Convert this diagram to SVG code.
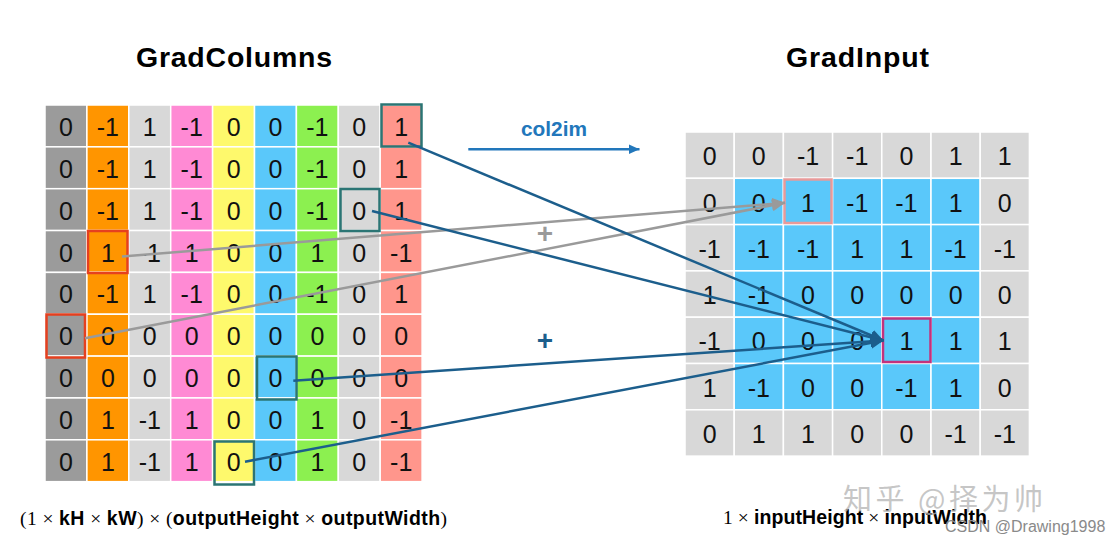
<svg xmlns="http://www.w3.org/2000/svg" width="1120" height="546" viewBox="0 0 1120 546">
<style>
.c rect{stroke:#fff;stroke-width:1.5}
.n{font-family:"Liberation Sans",Arial,sans-serif;font-size:25px;fill:#111;text-anchor:middle}
.title{font-family:"Liberation Sans",Arial,sans-serif;font-size:28.5px;font-weight:bold;fill:#000}
.g0{fill:#9b9b9b}.g1{fill:#ff9500}.g2{fill:#d8d8d8}.g3{fill:#ff8ad4}.g4{fill:#fef96c}.g5{fill:#5ac8fa}.g6{fill:#8cf050}.g8{fill:#ff968c}
.hl{fill:none;stroke-width:2.5}
.teal{stroke:#2b7574}.red{stroke:#e5401f}
.bl{stroke:#1c5e8c;stroke-width:2.5;fill:none}
.gr{stroke:#9a9a9a;stroke-width:2.5;fill:none}
.f{font-size:19.5px;fill:#000}
.serif{font-family:"Liberation Serif","Times New Roman",serif}
.sb{font-family:"Liberation Sans",Arial,sans-serif;font-weight:bold}
</style>
<defs>
<marker id="ab" markerUnits="userSpaceOnUse" markerWidth="14" markerHeight="12" refX="13" refY="6" orient="auto"><path d="M0,0 L13,6 L0,12 z" fill="#1c5e8c"/></marker>
<marker id="ag" markerUnits="userSpaceOnUse" markerWidth="14" markerHeight="12" refX="13" refY="6" orient="auto"><path d="M0,0 L13,6 L0,12 z" fill="#9a9a9a"/></marker>
<marker id="ac" markerUnits="userSpaceOnUse" markerWidth="12" markerHeight="12" refX="11" refY="6" orient="auto"><path d="M0,1 L11,6 L0,11 z" fill="#2277bb"/></marker>
</defs>
<rect width="1120" height="546" fill="#fff"/>

<g id="titles">
<text class="title" x="136" y="67" textLength="196" lengthAdjust="spacing">GradColumns</text>
<text class="title" x="786" y="67" textLength="143" lengthAdjust="spacing">GradInput</text>
</g>

<g id="gradColumns">
<g class="c">
<rect class="g0" x="45" y="105" width="41.9" height="41.85"/><rect class="g0" x="45" y="146.85" width="41.9" height="41.85"/><rect class="g0" x="45" y="188.7" width="41.9" height="41.85"/><rect class="g0" x="45" y="230.55" width="41.9" height="41.85"/><rect class="g0" x="45" y="272.4" width="41.9" height="41.85"/><rect class="g0" x="45" y="314.25" width="41.9" height="41.85"/><rect class="g0" x="45" y="356.1" width="41.9" height="41.85"/><rect class="g0" x="45" y="397.95" width="41.9" height="41.85"/><rect class="g0" x="45" y="439.8" width="41.9" height="41.85"/>
<rect class="g1" x="86.9" y="105" width="41.9" height="41.85"/><rect class="g1" x="86.9" y="146.85" width="41.9" height="41.85"/><rect class="g1" x="86.9" y="188.7" width="41.9" height="41.85"/><rect class="g1" x="86.9" y="230.55" width="41.9" height="41.85"/><rect class="g1" x="86.9" y="272.4" width="41.9" height="41.85"/><rect class="g1" x="86.9" y="314.25" width="41.9" height="41.85"/><rect class="g1" x="86.9" y="356.1" width="41.9" height="41.85"/><rect class="g1" x="86.9" y="397.95" width="41.9" height="41.85"/><rect class="g1" x="86.9" y="439.8" width="41.9" height="41.85"/>
<rect class="g2" x="128.8" y="105" width="41.9" height="41.85"/><rect class="g2" x="128.8" y="146.85" width="41.9" height="41.85"/><rect class="g2" x="128.8" y="188.7" width="41.9" height="41.85"/><rect class="g2" x="128.8" y="230.55" width="41.9" height="41.85"/><rect class="g2" x="128.8" y="272.4" width="41.9" height="41.85"/><rect class="g2" x="128.8" y="314.25" width="41.9" height="41.85"/><rect class="g2" x="128.8" y="356.1" width="41.9" height="41.85"/><rect class="g2" x="128.8" y="397.95" width="41.9" height="41.85"/><rect class="g2" x="128.8" y="439.8" width="41.9" height="41.85"/>
<rect class="g3" x="170.7" y="105" width="41.9" height="41.85"/><rect class="g3" x="170.7" y="146.85" width="41.9" height="41.85"/><rect class="g3" x="170.7" y="188.7" width="41.9" height="41.85"/><rect class="g3" x="170.7" y="230.55" width="41.9" height="41.85"/><rect class="g3" x="170.7" y="272.4" width="41.9" height="41.85"/><rect class="g3" x="170.7" y="314.25" width="41.9" height="41.85"/><rect class="g3" x="170.7" y="356.1" width="41.9" height="41.85"/><rect class="g3" x="170.7" y="397.95" width="41.9" height="41.85"/><rect class="g3" x="170.7" y="439.8" width="41.9" height="41.85"/>
<rect class="g4" x="212.6" y="105" width="41.9" height="41.85"/><rect class="g4" x="212.6" y="146.85" width="41.9" height="41.85"/><rect class="g4" x="212.6" y="188.7" width="41.9" height="41.85"/><rect class="g4" x="212.6" y="230.55" width="41.9" height="41.85"/><rect class="g4" x="212.6" y="272.4" width="41.9" height="41.85"/><rect class="g4" x="212.6" y="314.25" width="41.9" height="41.85"/><rect class="g4" x="212.6" y="356.1" width="41.9" height="41.85"/><rect class="g4" x="212.6" y="397.95" width="41.9" height="41.85"/><rect class="g4" x="212.6" y="439.8" width="41.9" height="41.85"/>
<rect class="g5" x="254.5" y="105" width="41.9" height="41.85"/><rect class="g5" x="254.5" y="146.85" width="41.9" height="41.85"/><rect class="g5" x="254.5" y="188.7" width="41.9" height="41.85"/><rect class="g5" x="254.5" y="230.55" width="41.9" height="41.85"/><rect class="g5" x="254.5" y="272.4" width="41.9" height="41.85"/><rect class="g5" x="254.5" y="314.25" width="41.9" height="41.85"/><rect class="g5" x="254.5" y="356.1" width="41.9" height="41.85"/><rect class="g5" x="254.5" y="397.95" width="41.9" height="41.85"/><rect class="g5" x="254.5" y="439.8" width="41.9" height="41.85"/>
<rect class="g6" x="296.4" y="105" width="41.9" height="41.85"/><rect class="g6" x="296.4" y="146.85" width="41.9" height="41.85"/><rect class="g6" x="296.4" y="188.7" width="41.9" height="41.85"/><rect class="g6" x="296.4" y="230.55" width="41.9" height="41.85"/><rect class="g6" x="296.4" y="272.4" width="41.9" height="41.85"/><rect class="g6" x="296.4" y="314.25" width="41.9" height="41.85"/><rect class="g6" x="296.4" y="356.1" width="41.9" height="41.85"/><rect class="g6" x="296.4" y="397.95" width="41.9" height="41.85"/><rect class="g6" x="296.4" y="439.8" width="41.9" height="41.85"/>
<rect class="g2" x="338.3" y="105" width="41.9" height="41.85"/><rect class="g2" x="338.3" y="146.85" width="41.9" height="41.85"/><rect class="g2" x="338.3" y="188.7" width="41.9" height="41.85"/><rect class="g2" x="338.3" y="230.55" width="41.9" height="41.85"/><rect class="g2" x="338.3" y="272.4" width="41.9" height="41.85"/><rect class="g2" x="338.3" y="314.25" width="41.9" height="41.85"/><rect class="g2" x="338.3" y="356.1" width="41.9" height="41.85"/><rect class="g2" x="338.3" y="397.95" width="41.9" height="41.85"/><rect class="g2" x="338.3" y="439.8" width="41.9" height="41.85"/>
<rect class="g8" x="380.2" y="105" width="41.9" height="41.85"/><rect class="g8" x="380.2" y="146.85" width="41.9" height="41.85"/><rect class="g8" x="380.2" y="188.7" width="41.9" height="41.85"/><rect class="g8" x="380.2" y="230.55" width="41.9" height="41.85"/><rect class="g8" x="380.2" y="272.4" width="41.9" height="41.85"/><rect class="g8" x="380.2" y="314.25" width="41.9" height="41.85"/><rect class="g8" x="380.2" y="356.1" width="41.9" height="41.85"/><rect class="g8" x="380.2" y="397.95" width="41.9" height="41.85"/><rect class="g8" x="380.2" y="439.8" width="41.9" height="41.85"/>
</g>
<g class="n">
<text y="136"><tspan x="66">0</tspan><tspan x="107.9">-1</tspan><tspan x="149.8">1</tspan><tspan x="191.7">-1</tspan><tspan x="233.6">0</tspan><tspan x="275.5">0</tspan><tspan x="317.4">-1</tspan><tspan x="359.3">0</tspan><tspan x="401.2">1</tspan></text>
<text y="177.9"><tspan x="66">0</tspan><tspan x="107.9">-1</tspan><tspan x="149.8">1</tspan><tspan x="191.7">-1</tspan><tspan x="233.6">0</tspan><tspan x="275.5">0</tspan><tspan x="317.4">-1</tspan><tspan x="359.3">0</tspan><tspan x="401.2">1</tspan></text>
<text y="219.7"><tspan x="66">0</tspan><tspan x="107.9">-1</tspan><tspan x="149.8">1</tspan><tspan x="191.7">-1</tspan><tspan x="233.6">0</tspan><tspan x="275.5">0</tspan><tspan x="317.4">-1</tspan><tspan x="359.3">0</tspan><tspan x="401.2">1</tspan></text>
<text y="261.6"><tspan x="66">0</tspan><tspan x="107.9">1</tspan><tspan x="149.8">-1</tspan><tspan x="191.7">1</tspan><tspan x="233.6">0</tspan><tspan x="275.5">0</tspan><tspan x="317.4">1</tspan><tspan x="359.3">0</tspan><tspan x="401.2">-1</tspan></text>
<text y="303.4"><tspan x="66">0</tspan><tspan x="107.9">-1</tspan><tspan x="149.8">1</tspan><tspan x="191.7">-1</tspan><tspan x="233.6">0</tspan><tspan x="275.5">0</tspan><tspan x="317.4">-1</tspan><tspan x="359.3">0</tspan><tspan x="401.2">1</tspan></text>
<text y="345.3"><tspan x="66">0</tspan><tspan x="107.9">0</tspan><tspan x="149.8">0</tspan><tspan x="191.7">0</tspan><tspan x="233.6">0</tspan><tspan x="275.5">0</tspan><tspan x="317.4">0</tspan><tspan x="359.3">0</tspan><tspan x="401.2">0</tspan></text>
<text y="387.1"><tspan x="66">0</tspan><tspan x="107.9">0</tspan><tspan x="149.8">0</tspan><tspan x="191.7">0</tspan><tspan x="233.6">0</tspan><tspan x="275.5">0</tspan><tspan x="317.4">0</tspan><tspan x="359.3">0</tspan><tspan x="401.2">0</tspan></text>
<text y="429"><tspan x="66">0</tspan><tspan x="107.9">1</tspan><tspan x="149.8">-1</tspan><tspan x="191.7">1</tspan><tspan x="233.6">0</tspan><tspan x="275.5">0</tspan><tspan x="317.4">1</tspan><tspan x="359.3">0</tspan><tspan x="401.2">-1</tspan></text>
<text y="470.8"><tspan x="66">0</tspan><tspan x="107.9">1</tspan><tspan x="149.8">-1</tspan><tspan x="191.7">1</tspan><tspan x="233.6">0</tspan><tspan x="275.5">0</tspan><tspan x="317.4">1</tspan><tspan x="359.3">0</tspan><tspan x="401.2">-1</tspan></text>
</g>
</g>

<g id="gradInput">
<g class="c">
<rect class="g2" x="685" y="132" width="49.2" height="46.3"/><rect class="g2" x="734.2" y="132" width="49.2" height="46.3"/><rect class="g2" x="783.4" y="132" width="49.2" height="46.3"/><rect class="g2" x="832.6" y="132" width="49.2" height="46.3"/><rect class="g2" x="881.8" y="132" width="49.2" height="46.3"/><rect class="g2" x="931" y="132" width="49.2" height="46.3"/><rect class="g2" x="980.2" y="132" width="49.2" height="46.3"/>
<rect class="g2" x="685" y="178.3" width="49.2" height="46.3"/><rect class="g5" x="734.2" y="178.3" width="49.2" height="46.3"/><rect class="g5" x="783.4" y="178.3" width="49.2" height="46.3"/><rect class="g5" x="832.6" y="178.3" width="49.2" height="46.3"/><rect class="g5" x="881.8" y="178.3" width="49.2" height="46.3"/><rect class="g5" x="931" y="178.3" width="49.2" height="46.3"/><rect class="g2" x="980.2" y="178.3" width="49.2" height="46.3"/>
<rect class="g2" x="685" y="224.6" width="49.2" height="46.3"/><rect class="g5" x="734.2" y="224.6" width="49.2" height="46.3"/><rect class="g5" x="783.4" y="224.6" width="49.2" height="46.3"/><rect class="g5" x="832.6" y="224.6" width="49.2" height="46.3"/><rect class="g5" x="881.8" y="224.6" width="49.2" height="46.3"/><rect class="g5" x="931" y="224.6" width="49.2" height="46.3"/><rect class="g2" x="980.2" y="224.6" width="49.2" height="46.3"/>
<rect class="g2" x="685" y="270.9" width="49.2" height="46.3"/><rect class="g5" x="734.2" y="270.9" width="49.2" height="46.3"/><rect class="g5" x="783.4" y="270.9" width="49.2" height="46.3"/><rect class="g5" x="832.6" y="270.9" width="49.2" height="46.3"/><rect class="g5" x="881.8" y="270.9" width="49.2" height="46.3"/><rect class="g5" x="931" y="270.9" width="49.2" height="46.3"/><rect class="g2" x="980.2" y="270.9" width="49.2" height="46.3"/>
<rect class="g2" x="685" y="317.2" width="49.2" height="46.3"/><rect class="g5" x="734.2" y="317.2" width="49.2" height="46.3"/><rect class="g5" x="783.4" y="317.2" width="49.2" height="46.3"/><rect class="g5" x="832.6" y="317.2" width="49.2" height="46.3"/><rect class="g5" x="881.8" y="317.2" width="49.2" height="46.3"/><rect class="g5" x="931" y="317.2" width="49.2" height="46.3"/><rect class="g2" x="980.2" y="317.2" width="49.2" height="46.3"/>
<rect class="g2" x="685" y="363.5" width="49.2" height="46.3"/><rect class="g5" x="734.2" y="363.5" width="49.2" height="46.3"/><rect class="g5" x="783.4" y="363.5" width="49.2" height="46.3"/><rect class="g5" x="832.6" y="363.5" width="49.2" height="46.3"/><rect class="g5" x="881.8" y="363.5" width="49.2" height="46.3"/><rect class="g5" x="931" y="363.5" width="49.2" height="46.3"/><rect class="g2" x="980.2" y="363.5" width="49.2" height="46.3"/>
<rect class="g2" x="685" y="409.8" width="49.2" height="46.3"/><rect class="g2" x="734.2" y="409.8" width="49.2" height="46.3"/><rect class="g2" x="783.4" y="409.8" width="49.2" height="46.3"/><rect class="g2" x="832.6" y="409.8" width="49.2" height="46.3"/><rect class="g2" x="881.8" y="409.8" width="49.2" height="46.3"/><rect class="g2" x="931" y="409.8" width="49.2" height="46.3"/><rect class="g2" x="980.2" y="409.8" width="49.2" height="46.3"/>
</g>
<g class="n">
<text y="165.2"><tspan x="709.6">0</tspan><tspan x="758.8">0</tspan><tspan x="808">-1</tspan><tspan x="857.2">-1</tspan><tspan x="906.4">0</tspan><tspan x="955.6">1</tspan><tspan x="1004.8">1</tspan></text>
<text y="211.5"><tspan x="709.6">0</tspan><tspan x="758.8">0</tspan><tspan x="808">1</tspan><tspan x="857.2">-1</tspan><tspan x="906.4">-1</tspan><tspan x="955.6">1</tspan><tspan x="1004.8">0</tspan></text>
<text y="257.8"><tspan x="709.6">-1</tspan><tspan x="758.8">-1</tspan><tspan x="808">-1</tspan><tspan x="857.2">1</tspan><tspan x="906.4">1</tspan><tspan x="955.6">-1</tspan><tspan x="1004.8">-1</tspan></text>
<text y="304.1"><tspan x="709.6">1</tspan><tspan x="758.8">-1</tspan><tspan x="808">0</tspan><tspan x="857.2">0</tspan><tspan x="906.4">0</tspan><tspan x="955.6">0</tspan><tspan x="1004.8">0</tspan></text>
<text y="350.4"><tspan x="709.6">-1</tspan><tspan x="758.8">0</tspan><tspan x="808">0</tspan><tspan x="857.2">0</tspan><tspan x="906.4">1</tspan><tspan x="955.6">1</tspan><tspan x="1004.8">1</tspan></text>
<text y="396.7"><tspan x="709.6">1</tspan><tspan x="758.8">-1</tspan><tspan x="808">0</tspan><tspan x="857.2">0</tspan><tspan x="906.4">-1</tspan><tspan x="955.6">1</tspan><tspan x="1004.8">0</tspan></text>
<text y="443"><tspan x="709.6">0</tspan><tspan x="758.8">1</tspan><tspan x="808">1</tspan><tspan x="857.2">0</tspan><tspan x="906.4">0</tspan><tspan x="955.6">-1</tspan><tspan x="1004.8">-1</tspan></text>
</g>
</g>

<g id="highlights">
<rect id="hl-r0c8" class="hl teal" x="381.5" y="104.5" width="40" height="42"/>
<rect id="hl-r2c7" class="hl teal" x="340.5" y="189" width="39" height="42"/>
<rect id="hl-r3c1" class="hl red" x="88" y="231" width="39.5" height="42"/>
<rect id="hl-r5c0" class="hl red" x="46.5" y="314.5" width="38.5" height="43"/>
<rect id="hl-r6c5" class="hl teal" x="257" y="356.5" width="39.5" height="43"/>
<rect id="hl-r8c4" class="hl teal" x="214.5" y="441.5" width="39.5" height="43"/>
<rect id="hl-in-r1c2" class="hl" stroke="#e89a9a" x="784.5" y="179.5" width="47" height="43.5"/>
<rect id="hl-in-r4c4" class="hl" stroke="#c2327d" x="883" y="318.5" width="47.5" height="43.5"/>
</g>

<g id="connectors">
<line class="gr" x1="122" y1="256.5" x2="785" y2="202.8" marker-end="url(#ag)"/>
<line class="gr" x1="85" y1="338.3" x2="785" y2="202.8" marker-end="url(#ag)"/>
<line class="bl" x1="408.3" y1="142.7" x2="883.5" y2="340.5" marker-end="url(#ab)"/>
<line class="bl" x1="372" y1="211" x2="883.5" y2="340.5" marker-end="url(#ab)"/>
<line class="bl" x1="293.3" y1="380.7" x2="883.5" y2="340.5" marker-end="url(#ab)"/>
<line class="bl" x1="245" y1="461.7" x2="883.5" y2="340.5" marker-end="url(#ab)"/>
<line x1="468.3" y1="149.3" x2="639.5" y2="149.3" stroke="#2277bb" stroke-width="2.5" marker-end="url(#ac)"/>
</g>

<g id="labels">
<text x="521" y="135.7" font-family="'Liberation Sans',Arial,sans-serif" font-weight="bold" font-size="20" fill="#2277bb" textLength="66" lengthAdjust="spacingAndGlyphs">col2im</text>
<text x="545" y="243" font-family="'Liberation Sans',Arial,sans-serif" font-weight="bold" font-size="28" fill="#9a9a9a" text-anchor="middle">+</text>
<text x="545" y="349.5" font-family="'Liberation Sans',Arial,sans-serif" font-weight="bold" font-size="28" fill="#1c5e8c" text-anchor="middle">+</text>
<text class="f" x="20" y="525" textLength="427" lengthAdjust="spacing"><tspan class="serif">(1 × </tspan><tspan class="sb">kH</tspan><tspan class="serif"> × </tspan><tspan class="sb">kW</tspan><tspan class="serif">) × (</tspan><tspan class="sb">outputHeight</tspan><tspan class="serif"> × </tspan><tspan class="sb">outputWidth</tspan><tspan class="serif">)</tspan></text>
<text class="f" x="723" y="524" textLength="264" lengthAdjust="spacing"><tspan class="serif">1 × </tspan><tspan class="sb">inputHeight</tspan><tspan class="serif"> × </tspan><tspan class="sb">inputWidth</tspan></text>
</g>

<g id="watermarks">
<text x="843" y="510" font-family="'Noto Sans CJK SC','Liberation Sans',sans-serif" font-size="29" fill="#b4b4b4" fill-opacity="0.75" textLength="200" lengthAdjust="spacing">知乎 @择为帅</text>
<text x="945" y="532" font-family="'Liberation Sans',Arial,sans-serif" font-size="16" fill="#8a8a8a">CSDN @Drawing1998</text>
</g>
</svg>
